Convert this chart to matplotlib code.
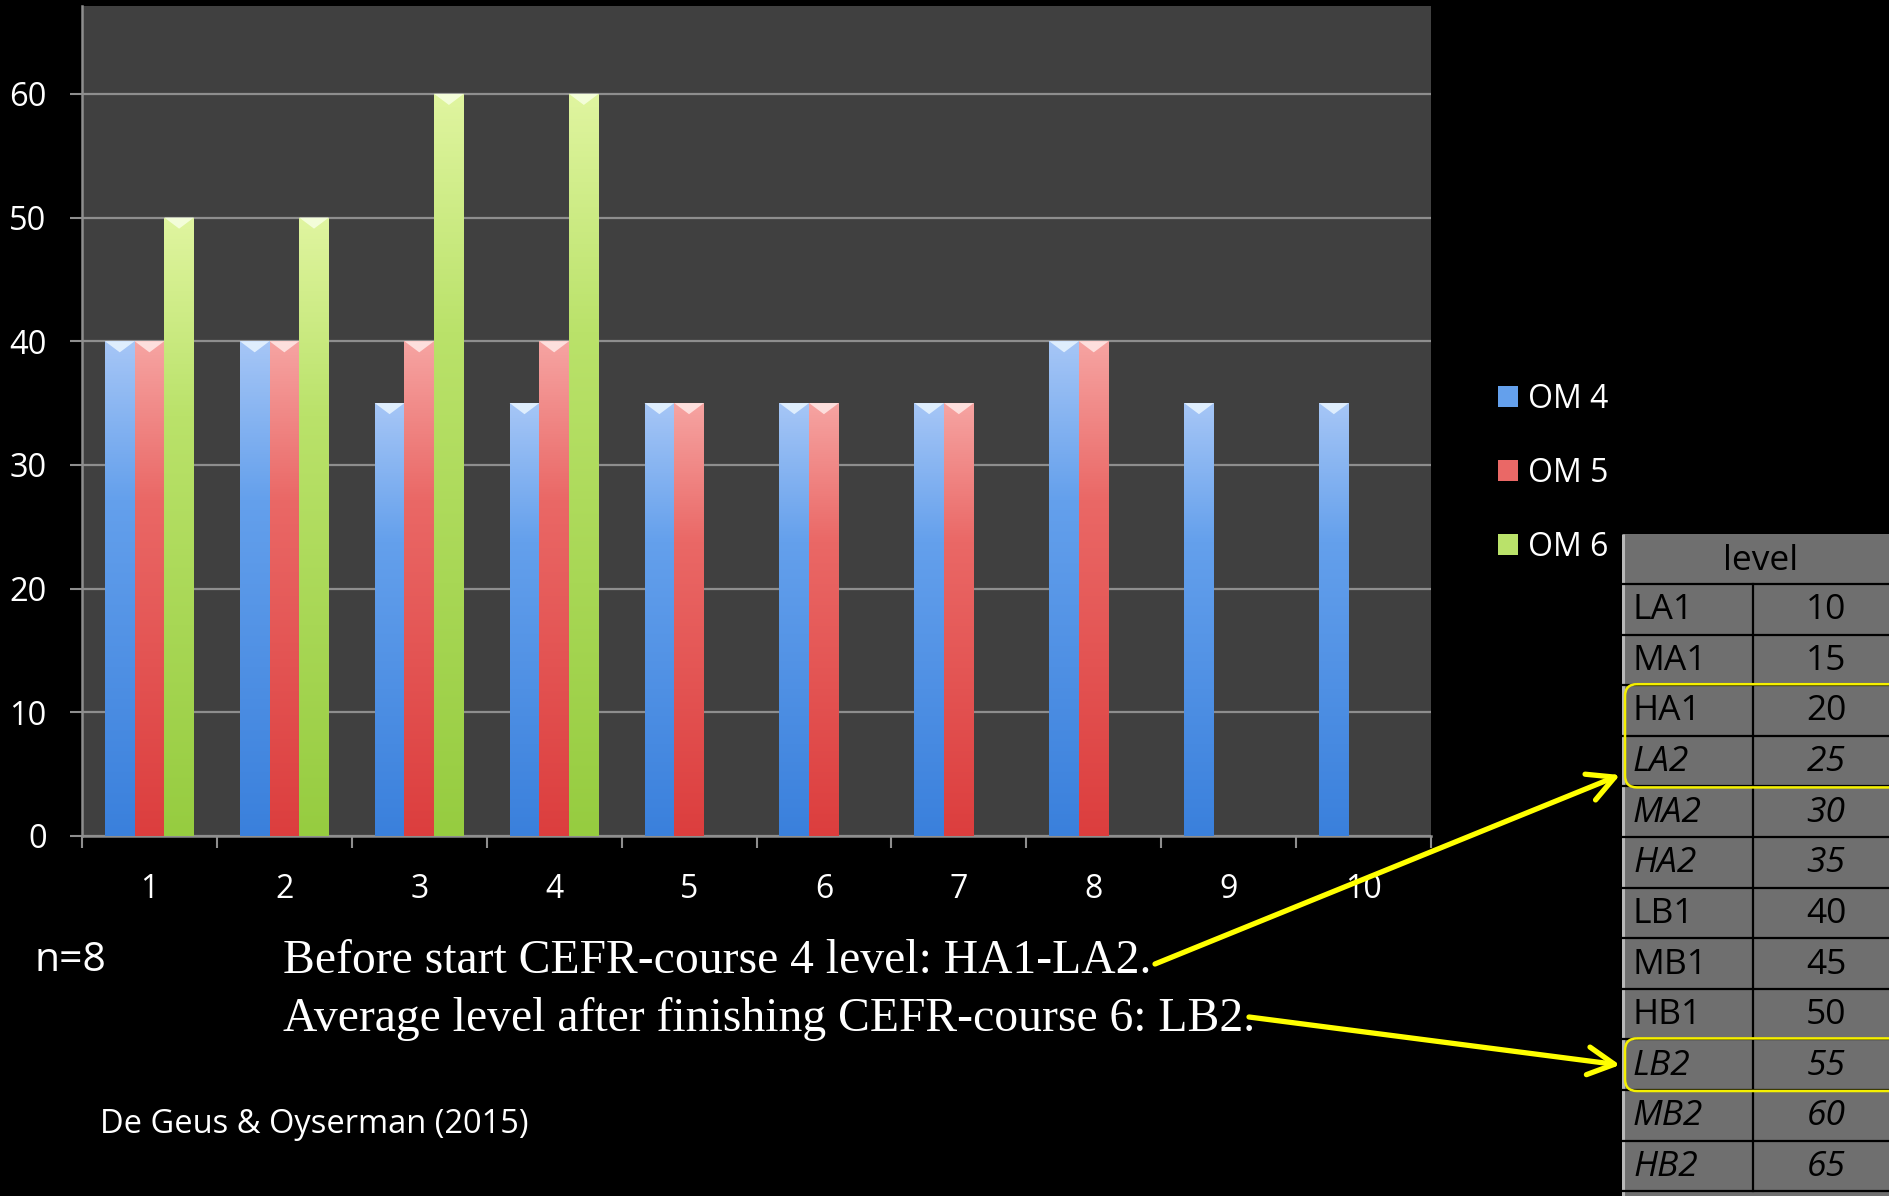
import numpy as np
import matplotlib
matplotlib.use("Agg")
import matplotlib.pyplot as plt
from matplotlib.colors import LinearSegmentedColormap
from matplotlib.patches import Patch, Rectangle, FancyBboxPatch, Polygon

# ---------------- data ----------------
categories = [1, 2, 3, 4, 5, 6, 7, 8, 9, 10]
series_names = ["OM 4", "OM 5", "OM 6"]
om4 = [40, 40, 35, 35, 35, 35, 35, 40, 35, 35]
om5 = [40, 40, 40, 40, 35, 35, 35, 40, np.nan, np.nan]
om6 = [50, 50, 60, 60, np.nan, np.nan, np.nan, np.nan, np.nan, np.nan]
y_ticks = [0, 10, 20, 30, 40, 50, 60]

level_names = ["LA1", "MA1", "HA1", "LA2", "MA2", "HA2",
               "LB1", "MB1", "HB1", "LB2", "MB2", "HB2"]
level_values = [10, 15, 20, 25, 30, 35, 40, 45, 50, 55, 60, 65]
level_italic = [False, False, False, True, True, True,
                False, False, False, True, True, True]

note_n = "n=8"
note_line1 = "Before start CEFR-course 4 level: HA1-LA2."
note_line2 = "Average level after finishing CEFR-course 6: LB2."
source = "De Geus & Oyserman (2015)"

# ---------------- styling ----------------
W, H = 1889, 1196
SANS = ["Open Sans", "DejaVu Sans"]
SERIF = ["Liberation Serif", "DejaVu Serif"]
plt.rcParams["font.family"] = SANS

def fx(px):
    return px / W

def fy(py):
    return 1 - py / H

colors_top = ["#a6c6f6", "#f6a4a2", "#e0f5a0"]
colors_mid = ["#64a0ec", "#ea6866", "#bae26a"]
colors_bot = ["#3a80dc", "#dc3e3e", "#96cc40"]
cap_col = ["#e6f3ff", "#ffe6e4", "#f6ffe0"]

fig = plt.figure(figsize=(W / 100, H / 100), dpi=100, facecolor="black")
ax = fig.add_axes([fx(82), fy(836), fx(1431) - fx(82), fy(6) - fy(836)])
ax.set_facecolor("#404040")

x = np.arange(len(categories)) + 1
bw = 0.22
offsets = [-bw, 0.0, bw]
all_series = [om4, om5, om6]

for si, vals in enumerate(all_series):
    cmap = LinearSegmentedColormap.from_list(
        "g%d" % si, [(0.0, colors_bot[si]), (0.68, colors_mid[si]), (1.0, colors_top[si])])
    bars = ax.bar(x + offsets[si], vals, width=bw, color=colors_mid[si],
                  zorder=3, linewidth=0, label=series_names[si])
    for r, v in zip(bars, vals):
        if np.isnan(v):
            continue
        x0 = r.get_x()
        x1 = x0 + r.get_width()
        grad = np.linspace(0, 1, 256).reshape(-1, 1)
        im = ax.imshow(grad, extent=[x0, x1, 0, v], origin="lower",
                       aspect="auto", cmap=cmap, zorder=4, interpolation="bilinear")
        im.set_clip_path(r)
        tri = Polygon([[x0, v], [x1, v], [(x0 + x1) / 2, v - 0.9]],
                      closed=True, facecolor=cap_col[si], edgecolor="none",
                      alpha=0.9, zorder=5)
        ax.add_patch(tri)

ax.set_xlim(0.5, len(categories) + 0.5)
ax.set_ylim(0, 67.1)

gcol = "#8e8e8e"
ax.set_yticks(y_ticks)
ax.set_yticklabels([str(t) for t in y_ticks])
ax.yaxis.grid(True, color=gcol, linewidth=1.6, zorder=1)
ax.set_axisbelow(True)

ax.set_xticks(np.arange(0.5, len(categories) + 1, 1.0))
ax.set_xticklabels([])
ax.set_xticks(x, minor=True)
ax.set_xticklabels([str(c) for c in categories], minor=True)
ax.tick_params(axis="x", which="major", length=8.5, width=1.5, color=gcol, direction="out")
ax.tick_params(axis="x", which="minor", length=0, pad=27, labelsize=23, labelcolor="white")
ax.tick_params(axis="y", length=8.5, width=1.5, color=gcol, direction="out",
               pad=17, labelsize=23.5, labelcolor="white")

for s in ["top", "right"]:
    ax.spines[s].set_visible(False)
for s in ["left", "bottom"]:
    ax.spines[s].set_color(gcol)
    ax.spines[s].set_linewidth(1.8)

handles = [Patch(facecolor=colors_mid[i], edgecolor="none") for i in range(3)]
leg = ax.legend(handles, series_names, loc="upper left",
                bbox_to_anchor=(fx(1498), fy(383)), bbox_transform=fig.transFigure,
                frameon=False, fontsize=23, labelcolor="white",
                handlelength=0.64, handleheight=0.64, handletextpad=0.3,
                labelspacing=1.28, borderpad=0, borderaxespad=0)

# ---------------- notes ----------------
fig.text(fx(34), fy(971), note_n, color="white", fontsize=29.5, va="baseline", ha="left", family=SANS)
fig.text(fx(283), fy(973), note_line1, color="white", fontsize=34.3, va="baseline", ha="left", family=SERIF)
fig.text(fx(283), fy(1031), note_line2, color="white", fontsize=34.3, va="baseline", ha="left", family=SERIF)
fig.text(fx(100), fy(1133), source, color="white", fontsize=23.5, va="baseline", ha="left", family=SANS)

# ---------------- level table ----------------
tx0, ty0 = 1622, 534
tw, th = 278, H - ty0
tax = fig.add_axes([fx(tx0), fy(H), tw / W, th / H])
tax.set_xlim(0, tw)
tax.set_ylim(th, 0)
tax.axis("off")
tax.patch.set_alpha(0)

tbg = "#6f6f6f"
header_h = 50
row_h = 50.6
col_split = 131
tax.add_patch(Rectangle((1, 0), tw, th, facecolor=tbg, edgecolor="none", zorder=1))
tax.plot([1, 1], [0, th], color="#b8b8b8", lw=2.2, zorder=3, solid_capstyle="butt")
tax.text(tw / 2, header_h / 2 + 2, "level", ha="center", va="center", fontsize=25.5, color="black", zorder=4)
n_rows = len(level_names)
for i in range(n_rows + 1):
    yy = header_h + i * row_h
    tax.plot([1, tw], [yy, yy], color="black", lw=1.6, zorder=3)
tax.plot([col_split, col_split], [header_h, header_h + n_rows * row_h], color="black", lw=1.6, zorder=3)
for i, (nm, val, it) in enumerate(zip(level_names, level_values, level_italic)):
    yc = header_h + (i + 0.5) * row_h + 1
    st = "italic" if it else "normal"
    tax.text(11, yc, nm, ha="left", va="center", fontsize=25.5, color="black", style=st, zorder=4)
    tax.text(204, yc, str(val), ha="center", va="center", fontsize=25.5, color="black", style=st, zorder=4)

def box_rows(i0, i1):
    y0 = header_h + i0 * row_h - 1
    y1 = header_h + (i1 + 1) * row_h + 1
    b = FancyBboxPatch((3, y0), tw + 40, y1 - y0,
                       boxstyle="round,pad=0,rounding_size=12",
                       facecolor="none", edgecolor="#f5f000", lw=1.8, zorder=5, clip_on=False)
    tax.add_patch(b)

box_rows(2, 3)
box_rows(9, 9)

def arrow(p0, p1):
    tax.annotate("", xy=(fx(p1[0]), fy(p1[1])), xytext=(fx(p0[0]), fy(p0[1])),
                 xycoords="figure fraction", textcoords="figure fraction",
                 annotation_clip=False,
                 arrowprops=dict(arrowstyle="->,head_length=0.95,head_width=0.5",
                                 color="#ffff00", lw=3.8, mutation_scale=20,
                                 shrinkA=0, shrinkB=0))

arrow((1155, 964), (1620, 775))
arrow((1249, 1017), (1620, 1065))

fig.savefig("out.png", dpi=100, facecolor="black")
